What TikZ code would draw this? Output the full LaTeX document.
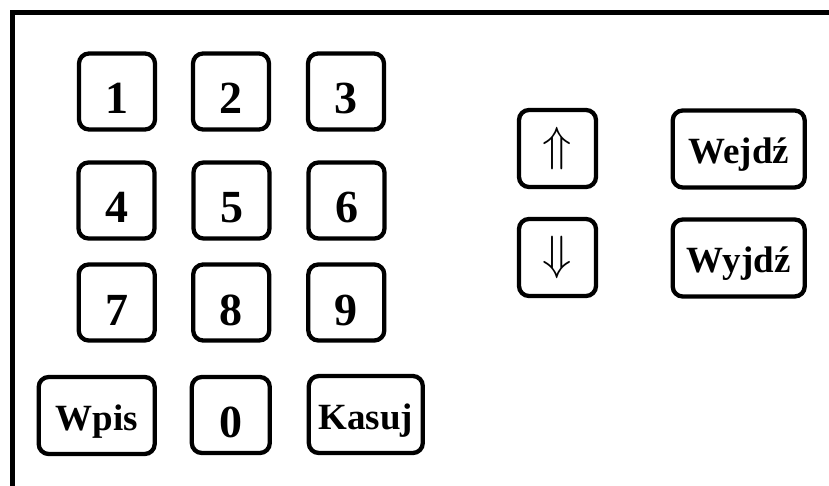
\RequirePackage{fix-cm}
\documentclass[tikz,border=0pt]{standalone}
\usepackage{fontspec}
\setmainfont{Liberation Serif}
\begin{document}
\begin{tikzpicture}[x=1pt,y=-1pt,
  keybox/.style={draw, line width=4.3pt, rounded corners=10pt, inner sep=0pt},
  digitkey/.style={keybox, font=\fontsize{46}{50}\selectfont\bfseries,
    text height=45pt, text depth=0pt, minimum width=76pt, minimum height=76pt},
  wordkey/.style={keybox, font=\fontsize{37}{40}\selectfont\bfseries,
    text height=29pt, text depth=0pt, minimum height=77pt},
  arrowkey/.style={keybox, font=\fontsize{48}{50}\selectfont,
    minimum width=77pt, minimum height=77pt}
]
\useasboundingbox (0,0) rectangle (829,486);
\clip (0,0) rectangle (829,486);
\coordinate (fbl) at (12.5,500);
\coordinate (ftl) at (12.5,12.5);
\coordinate (ftr) at (840,12.5);
\draw[line width=5pt] (fbl) -- (ftl) -- (ftr);

\node[digitkey] (k1) at (117,91.5) {1};
\node[digitkey] (k2) at (231,91.5) {2};
\node[digitkey] (k3) at (346,91.5) {3};
\node[digitkey] (k4) at (116.5,200.5) {4};
\node[digitkey] (k5) at (231.5,200.5) {5};
\node[digitkey] (k6) at (346.5,200.5) {6};
\node[digitkey] (k7) at (116.7,302.5) {7};
\node[digitkey] (k8) at (231.2,302.5) {8};
\node[digitkey] (k9) at (346.3,302.5) {9};
\node[wordkey, minimum width=116pt] (wpis) at (96.7,415.5) {Wpis};
\node[digitkey, minimum width=78pt] (k0) at (230.8,415) {0};
\node[wordkey, minimum width=114pt] (kasuj) at (365.8,414.5) {Kasuj};

\node[arrowkey] (up) at (557.5,148.5) {$\Uparrow$};
\node[arrowkey] (down) at (557.5,257.5) {$\Downarrow$};
\node[wordkey, minimum width=132pt] (wejdz) at (738.7,149) {Wejdź};
\node[wordkey, minimum width=132pt] (wyjdz) at (738.7,258) {Wyjdź};
\end{tikzpicture}
\end{document}
